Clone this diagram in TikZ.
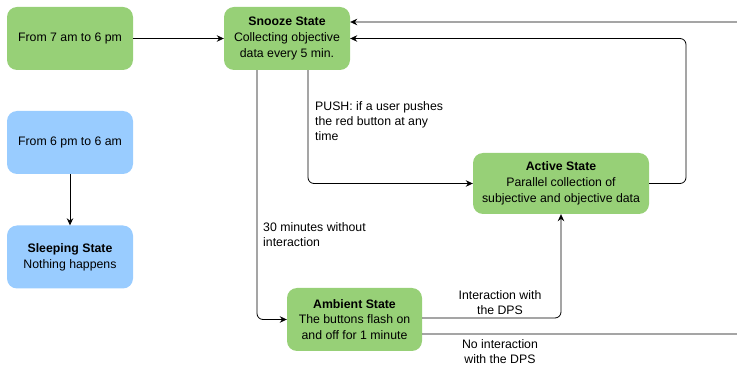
\documentclass[tikz,border=0pt]{standalone}
\usepackage{fontspec}
\setmainfont{Liberation Sans}
\usepackage{xcolor}
\usepackage{tikz}
\usetikzlibrary{arrows.meta, positioning}
\definecolor{daygreen}{HTML}{97D077}
\definecolor{nightblue}{HTML}{99CCFF}
\tikzset{
  phase box/.style={
    draw=none,
    rounded corners=10pt,
    minimum width=126pt,
    minimum height=63pt,
    align=center,
    inner sep=2pt,
    font=\fontsize{12.3}{15.8}\selectfont
  },
  day box/.style={phase box, fill=daygreen},
  night box/.style={phase box, fill=nightblue},
  trans/.style={
    -{Stealth[length=7pt, width=6.5pt]},
    line width=0.8pt,
    rounded corners=6pt
  },
  cond/.style={
    inner sep=0pt,
    align=left,
    font=\fontsize{12.3}{15}\selectfont
  }
}

\begin{document}
\begin{tikzpicture}[x=1pt, y=-1pt]
  \clip (0,0) rectangle (737,366);

  % time windows
  \node[day box] (day) at (70,38.5) {From 7 am to 6 pm};
  \node[night box] (night) at (70,142.5) {From 6 pm to 6 am};
  \node[night box] (sleep) at (70,257) {\textbf{Sleeping State}\\Nothing happens};

  % states
  \node[day box] (snooze) at (287,38.5) {\textbf{Snooze State}\\Collecting objective\\data every 5 min.};
  \node[day box, minimum width=176pt, minimum height=61pt] (active) at (561,183.5)
    {\textbf{Active State}\\Parallel collection of\\subjective and objective data};
  \node[day box, minimum width=135pt] (ambient) at (354.5,319.5)
    {\textbf{Ambient State}\\The buttons flash on\\and off for 1 minute};

  \coordinate (back) at (686,38.5);
  \coordinate (far low) at (770,334);
  \coordinate (far high) at (770,22);

  % transitions
  \draw[trans] (day) -- (snooze);
  \draw[trans] (night) -- (sleep);
  \draw[trans] ([xshift=-30pt]snooze.south) |- (ambient.west);
  \draw[trans] ([xshift=21pt]snooze.south) |- (active.west);
  \draw[trans] (active.east) -| (back) -- (snooze.east);
  \draw[trans] ([yshift=1.5pt]ambient.east) -| (active.south);
  \draw[trans] ([yshift=-14.5pt]ambient.east) -- (far low) -- (far high) -- ([yshift=16.5pt]snooze.east);

  % conditions
  \node[cond, anchor=west] (quiet) at (263,235) {30 minutes without\\interaction};
  \node[cond, anchor=west] (push) at (315,121.5) {PUSH: if a user pushes\\the red button at any\\time};
  \node[cond, align=center] (touch) at (500,303) {Interaction with\\the DPS};
  \node[cond, align=center] (idle) at (500,351.5) {No interaction\\with the DPS};
\end{tikzpicture}
\end{document}
